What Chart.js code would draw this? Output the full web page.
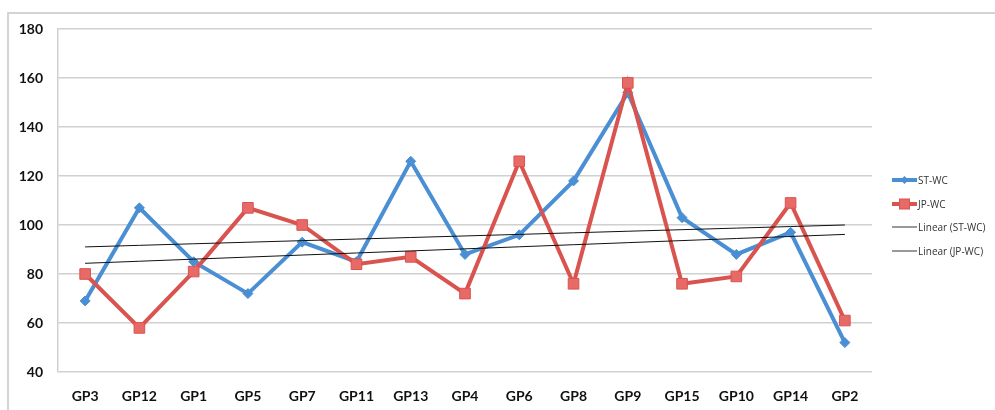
<!DOCTYPE html>
<html>
<head>
<meta charset="utf-8">
<script src="https://cdn.jsdelivr.net/npm/chart.js@4/dist/chart.umd.min.js"></script>
<style>
  html, body { margin: 0; padding: 0; background: #fff; }
  #wrap { position: relative; width: 995px; height: 410px; overflow: hidden; }
  #frame { position: absolute; left: 7px; top: 12px; width: 1100px; height: 500px;
           border-top: 2px solid #d4d4d4; border-left: 2px solid #d4d4d4; }
  canvas { position: absolute; left: 0; top: 0; }
</style>
</head>
<body>
<div id="wrap">
  <div id="frame"></div>
  <canvas id="c" width="995" height="410"></canvas>
</div>
<script>
// Categories and series
const categories = ['GP3','GP12','GP1','GP5','GP7','GP11','GP13','GP4','GP6','GP8','GP9','GP15','GP10','GP14','GP2'];
const stWC = [69,107,85,72,93,85,126,88,96,118,154,103,88,97,52];
const jpWC = [80,58,81,107,100,84,87,72,126,76,158,76,79,109,61];
const yTicks = [40,60,80,100,120,140,160,180];

// Least-squares linear trend over category index
function linearTrend(values) {
  const n = values.length;
  const xs = values.map((_, i) => i + 1);
  const mx = xs.reduce((a, b) => a + b, 0) / n;
  const my = values.reduce((a, b) => a + b, 0) / n;
  let sxy = 0, sxx = 0;
  xs.forEach((x, i) => { sxy += (x - mx) * (values[i] - my); sxx += (x - mx) * (x - mx); });
  const slope = sxy / sxx;
  return xs.map(x => my + slope * (x - mx));
}

const BLUE = '#4a8fd4';
const RED = '#d9534f';
const RED_FILL = '#e86a66';

// Legend drawn at the right of the plot
const sideLegend = {
  id: 'sideLegend',
  afterDraw(chart) {
    const ctx = chart.ctx;
    const items = [
      { text: 'ST-WC', kind: 'blue', y: 180 },
      { text: 'JP-WC', kind: 'red', y: 204 },
      { text: 'Linear (ST-WC)', kind: 'trend', y: 227 },
      { text: 'Linear (JP-WC)', kind: 'trend', y: 251 }
    ];
    const x0 = 892, x1 = 917;
    ctx.save();
    items.forEach(it => {
      ctx.beginPath();
      ctx.moveTo(x0, it.y);
      ctx.lineTo(x1, it.y);
      if (it.kind === 'blue') { ctx.strokeStyle = BLUE; ctx.lineWidth = 4; }
      else if (it.kind === 'red') { ctx.strokeStyle = RED; ctx.lineWidth = 4; }
      else { ctx.strokeStyle = '#777'; ctx.lineWidth = 1.5; }
      ctx.stroke();
      const cx = (x0 + x1) / 2;
      if (it.kind === 'blue') {
        ctx.fillStyle = BLUE;
        ctx.beginPath();
        ctx.moveTo(cx, it.y - 4); ctx.lineTo(cx + 4, it.y);
        ctx.lineTo(cx, it.y + 4); ctx.lineTo(cx - 4, it.y); ctx.closePath();
        ctx.fill();
      } else if (it.kind === 'red') {
        ctx.fillStyle = RED_FILL; ctx.strokeStyle = RED; ctx.lineWidth = 1;
        ctx.fillRect(cx - 5, it.y - 5, 10, 10);
        ctx.strokeRect(cx - 5, it.y - 5, 10, 10);
      }
      ctx.fillStyle = '#333';
      ctx.font = '10px "Open Sans", sans-serif';
      ctx.textBaseline = 'middle';
      ctx.textAlign = 'left';
      ctx.fillText(it.text, x1 + 1, it.y + 1);
    });
    ctx.restore();
  }
};

new Chart(document.getElementById('c'), {
  type: 'line',
  data: {
    labels: categories,
    datasets: [
      {
        label: 'Linear (ST-WC)', data: linearTrend(stWC),
        borderColor: '#111', borderWidth: 1, pointRadius: 0, tension: 0, order: 0
      },
      {
        label: 'Linear (JP-WC)', data: linearTrend(jpWC),
        borderColor: '#111', borderWidth: 1, pointRadius: 0, tension: 0, order: 0
      },
      {
        label: 'JP-WC', data: jpWC,
        borderColor: RED, borderWidth: 4, tension: 0,
        pointStyle: 'rect', pointRadius: 7.5, pointBackgroundColor: RED_FILL,
        pointBorderColor: RED, pointBorderWidth: 1, order: 1
      },
      {
        label: 'ST-WC', data: stWC,
        borderColor: BLUE, borderWidth: 4, tension: 0,
        pointStyle: 'rectRot', pointRadius: 5, pointBackgroundColor: BLUE,
        pointBorderColor: BLUE, pointBorderWidth: 1, order: 2
      }
    ]
  },
  options: {
    responsive: false,
    animation: false,
    layout: { padding: { top: 29, right: 123, left: 0, bottom: 0 } },
    plugins: { legend: { display: false }, tooltip: { enabled: false } },
    scales: {
      x: {
        offset: true,
        grid: { display: false, drawTicks: false },
        border: { display: false },
        ticks: {
          color: '#111', padding: 16,
          font: { family: 'Lato', weight: 'bold', size: 14 }
        },
        afterFit(scale) { scale.height = 38; }
      },
      y: {
        min: 40, max: 180,
        afterBuildTicks(scale) { scale.ticks = yTicks.map(v => ({ value: v })); },
        grid: { color: '#d0d0d0', lineWidth: 1.5, drawTicks: false },
        border: { display: true, color: '#d0d0d0', width: 1.5 },
        ticks: {
          color: '#111', padding: 15,
          font: { family: 'Lato', weight: 'bold', size: 14 }
        },
        afterFit(scale) { scale.width = 58; }
      }
    }
  },
  plugins: [sideLegend]
});
</script>
</body>
</html>
